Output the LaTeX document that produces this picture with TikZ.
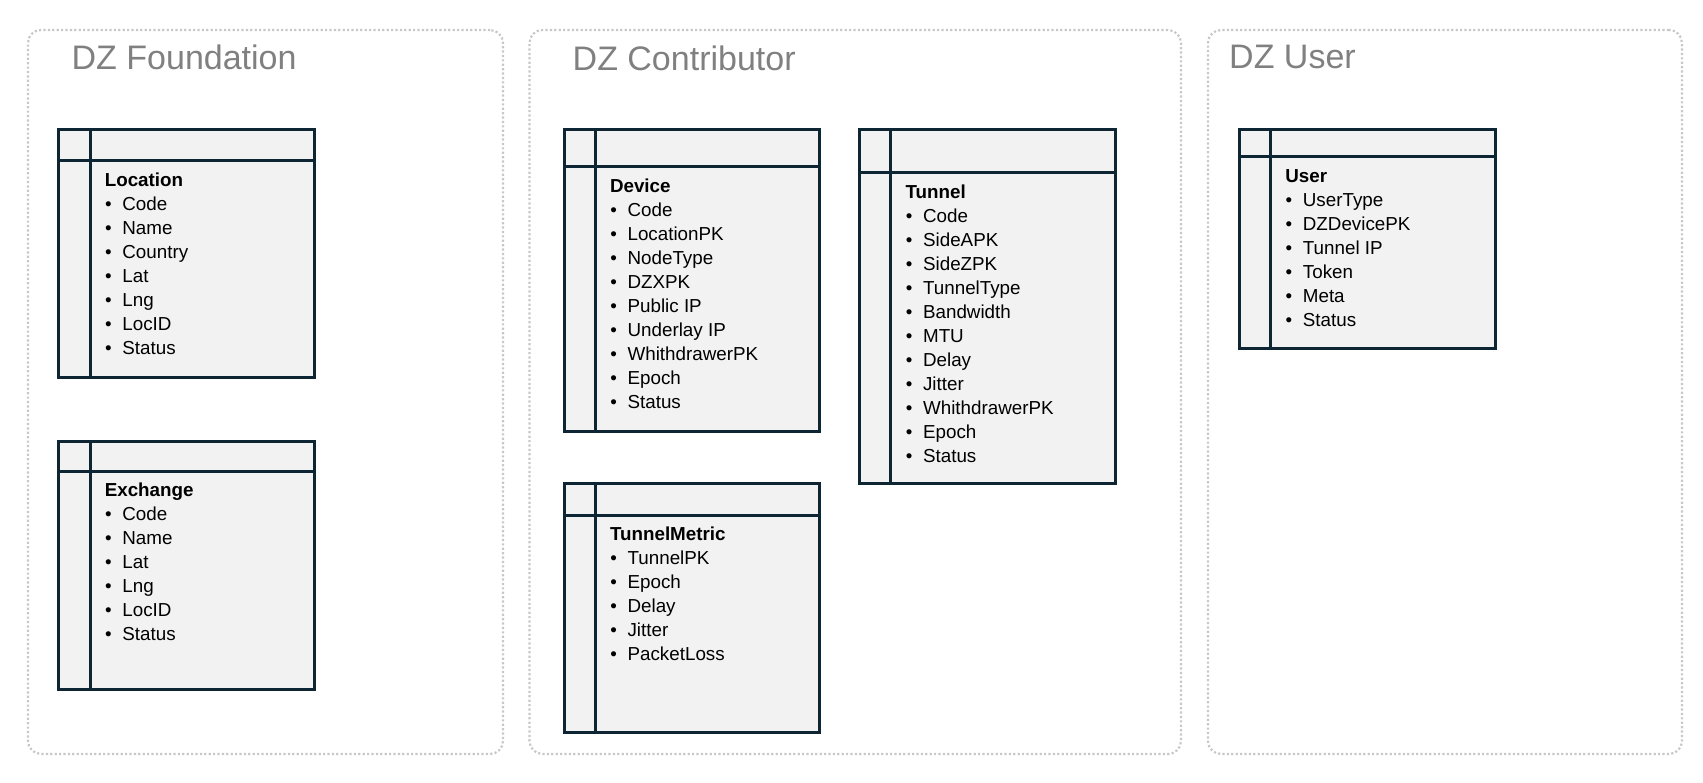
\documentclass[tikz,border=0pt]{standalone}
\usepackage{fontspec}
\setmainfont{Liberation Sans}
\usetikzlibrary{fit}
\definecolor{tblline}{RGB}{14,38,52}
\definecolor{tblfill}{RGB}{242,242,242}
\definecolor{grp}{RGB}{200,200,200}
\definecolor{ttl}{RGB}{128,128,128}
\tikzset{
  group/.style={draw=grp, line width=2.2pt, dash pattern=on 2.2pt off 2.2pt, rounded corners=13pt, inner sep=0pt},
  grptitle/.style={text=ttl, font=\fontsize{34}{40}\selectfont, inner sep=0pt, anchor=base west},
  tbl/.style={draw=tblline, fill=tblfill, line width=3pt, inner sep=0pt},
  tblrule/.style={draw=tblline, line width=3pt},
  tbltitle/.style={font=\fontsize{18.8}{22}\selectfont\bfseries, inner sep=0pt, anchor=base west},
  tblitem/.style={font=\fontsize{18.8}{22}\selectfont, inner sep=0pt, anchor=base west},
}
% #1 name, #2 x1, #3 y1, #4 x2, #5 y2, #6 header rule y, #7 title, #8 items
\newcommand{\ertable}[8]{%
  \node[tbl, fit={(#2,#3)(#4,#5)}] (#1) {};
  \draw[tblrule] ({#2},{#6}) -- ({#4},{#6});
  \draw[tblrule] ({#2+31.3},{#3}) -- ({#2+31.3},{#5});
  \node[tbltitle] (#1-title) at ({#2+45.8},{#6+25.5}) {#7};
  \foreach \itm [count=\i] in {#8} {
    \node[tblitem] (#1-\i) at ({#2+46.2},{#6+25.5+24*\i}) {\makebox[17.2pt][l]{\textbullet}\itm};
  }
}
\begin{document}
\begin{tikzpicture}[x=1pt, y=-1pt]
\useasboundingbox (0,0) rectangle (1703,783);
% groups
\node[group, fit={(28,30)(503,754)}] (gfound) {};
\node[group, fit={(529.5,30)(1181,754)}] (gcontrib) {};
\node[group, fit={(1208,30)(1682,754)}] (guser) {};
\node[grptitle] (tfound) at (71.5,69.3) {DZ Foundation};
\node[grptitle] (tcontrib) at (572.5,71) {DZ Contributor};
\node[grptitle] (tuser) at (1229,68.5) {DZ User};
% tables
\ertable{loc}{58.8}{129.8}{314.5}{377.5}{160.7}{Location}{Code,Name,Country,Lat,Lng,LocID,Status}
\ertable{exch}{58.8}{441}{314.5}{689}{471}{Exchange}{Code,Name,Lat,Lng,LocID,Status}
\ertable{dev}{564}{129.8}{819}{432}{167}{Device}{Code,LocationPK,NodeType,DZXPK,Public IP,Underlay IP,WhithdrawerPK,Epoch,Status}
\ertable{tun}{859.5}{129.8}{1115}{483}{173}{Tunnel}{Code,SideAPK,SideZPK,TunnelType,Bandwidth,MTU,Delay,Jitter,WhithdrawerPK,Epoch,Status}
\ertable{tmet}{564}{483}{819}{732}{515}{TunnelMetric}{TunnelPK,Epoch,Delay,Jitter,PacketLoss}
\ertable{usr}{1239.3}{130}{1495}{348.3}{156.7}{User}{UserType,DZDevicePK,Tunnel IP,Token,Meta,Status}
\end{tikzpicture}
\end{document}
